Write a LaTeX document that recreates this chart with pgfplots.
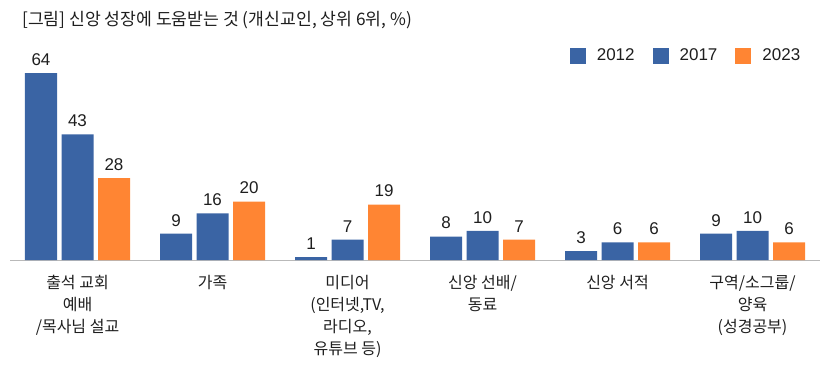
\documentclass[border=0pt]{standalone}
\usepackage{fontspec}
\setmainfont{Noto Sans CJK KR}
\newfontfamily\numfont{Liberation Sans}
\usepackage{pgfplots}
\pgfplotsset{compat=1.18}
\definecolor{cblue}{HTML}{3A64A4}
\definecolor{corange}{HTML}{FF8533}
\definecolor{ctext}{HTML}{1E1E1E}
\begin{document}
\begin{tikzpicture}
\path[use as bounding box] (0,0) rectangle (835bp,-368bp);
\node[anchor=west, font=\fontsize{17.2bp}{19bp}\selectfont, text=ctext, inner sep=0pt] at (22bp,-20bp) {[그림] 신앙 성장에 도움받는 것 (개신교인, 상위 6위, \%)};
\begin{axis}[
  at={(10bp,-260bp)}, anchor=south west,
  scale only axis, width=810bp, height=204.4bp,
  xmin=-0.5, xmax=5.5, ymin=0, ymax=70,
  axis y line=none, axis x line*=bottom,
  x axis line style={draw=gray!55, line width=1pt, -},
  xtick={0,1,2,3,4,5}, major tick length=0pt,
  xticklabels={{출석 교회\\예배\\/목사님 설교},{가족},{미디어\\(인터넷,TV,\\라디오,\\유튜브 등)},{신앙 선배/\\동료},{신앙 서적},{구역/소그룹/\\양육\\(성경공부)}},
  xticklabel style={align=center, font=\fontsize{16bp}{22bp}\selectfont, text=ctext, yshift=-12bp},
  ybar, bar width=32bp,
  nodes near coords,
  every node near coord/.append style={font=\numfont\fontsize{17bp}{18bp}\selectfont, text=ctext, yshift=4bp},
  /pgf/number format/assume math mode=true,
  legend style={at={(0.982,1.0)}, anchor=east, draw=none, fill=none, legend columns=3, font=\numfont\fontsize{17bp}{18bp}\selectfont, text=ctext,
    /tikz/every odd column/.append style={column sep=9bp},
    /tikz/every even column/.append style={column sep=16bp}},
  legend image code/.code={\fill[#1,draw=none] (0bp,-8bp) rectangle (16bp,8bp);},
  clip=false,
]
\addplot[fill=cblue, draw=none, bar shift=-36.5bp] coordinates {(0,64) (1,9) (2,1) (3,8) (4,3) (5,9)};
\addplot[fill=cblue, draw=none, bar shift=0bp] coordinates {(0,43) (1,16) (2,7) (3,10) (4,6) (5,10)};
\addplot[fill=corange, draw=none, bar shift=36.5bp] coordinates {(0,28) (1,20) (2,19) (3,7) (4,6) (5,6)};
\legend{2012,2017,2023}
\end{axis}
\end{tikzpicture}
\end{document}
